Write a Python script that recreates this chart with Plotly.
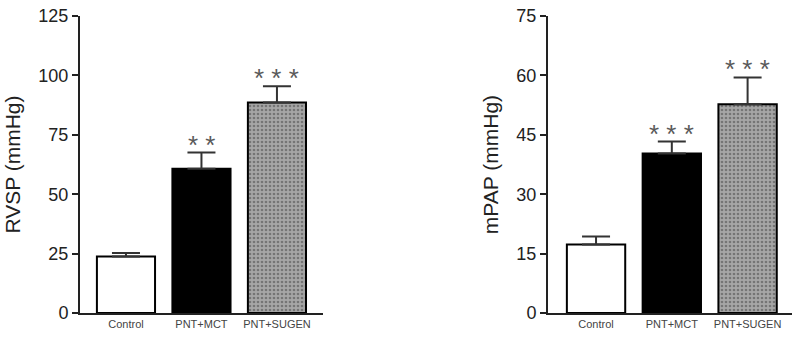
import plotly.graph_objects as go

categories = ["Control", "PNT+MCT", "PNT+SUGEN"]
rvsp_values = [23.8, 60.7, 88.6]
rvsp_errors = [1.4, 6.8, 6.8]
rvsp_stars = ["", "* *", "* * *"]
mpap_values = [17.3, 40.3, 52.7]
mpap_errors = [2.0, 3.0, 6.8]
mpap_stars = ["", "* * *", "* * *"]
rvsp_ticks = [0, 25, 50, 75, 100, 125]
mpap_ticks = [0, 15, 30, 45, 60, 75]

xpos = [0, 1, 2]
fill_colors = ["white", "black", "#a6a6a6"]
patterns = ["", "", "."]

FONT = "Liberation Sans, Arial, sans-serif"

fig = go.Figure()

def add_panel(vals, errs, xa, ya):
    fig.add_trace(go.Bar(
        x=xpos, y=vals, width=0.77,
        marker=dict(color=fill_colors, line=dict(color="black", width=2),
                    pattern=dict(shape=patterns, fgcolor="#dcdcdc", bgcolor="#9a9a9a",
                                 size=4, solidity=0.35, fillmode="overlay")),
        error_y=dict(type="data", symmetric=False, array=errs, arrayminus=[0]*len(errs),
                     color="#333333", thickness=2, width=14),
        xaxis=xa, yaxis=ya, showlegend=False,
    ))

add_panel(rvsp_values, rvsp_errors, "x", "y")
add_panel(mpap_values, mpap_errors, "x2", "y2")

def add_stars(vals, errs, stars, xref, yref):
    for x, v, e, s in zip(xpos, vals, errs, stars):
        if s:
            fig.add_annotation(x=x, y=v + e, xref=xref, yref=yref, text=s,
                               showarrow=False, yanchor="bottom", yshift=-9,
                               font=dict(family=FONT, size=26, color="#5a5a5a"))

add_stars(rvsp_values, rvsp_errors, rvsp_stars, "x", "y")
add_stars(mpap_values, mpap_errors, mpap_stars, "x2", "y2")

xcommon = dict(tickvals=xpos, ticktext=categories, ticks="", showline=True,
               linecolor="#222222", linewidth=2, showgrid=False, zeroline=False,
               automargin=False,
               tickfont=dict(family=FONT, size=11, color="#444444"))
ycommon = dict(ticks="outside", ticklen=6, tickwidth=2, tickcolor="#222222",
               showline=True, linecolor="#222222", linewidth=2, showgrid=False,
               zeroline=False, automargin=False,
               tickfont=dict(family=FONT, size=18, color="#222222"))

ybot = 30 / 343
ytop = 327 / 343

fig.update_layout(
    width=800, height=343,
    margin=dict(l=0, r=0, t=0, b=0),
    paper_bgcolor="white", plot_bgcolor="white",
    xaxis=dict(domain=[80/800, 323/800], range=[-0.609, 2.61], anchor="y", **xcommon),
    yaxis=dict(domain=[ybot, ytop], range=[0, 125], tickvals=rvsp_ticks, anchor="x",
               title=dict(text="RVSP (mmHg)", font=dict(family=FONT, size=21, color="#222222"), standoff=12),
               **ycommon),
    xaxis2=dict(domain=[548/800, 792/800], range=[-0.634, 2.586], anchor="y2", **xcommon),
    yaxis2=dict(domain=[ybot, ytop], range=[0, 75], tickvals=mpap_ticks, anchor="x2",
                title=dict(text="mPAP (mmHg)", font=dict(family=FONT, size=21, color="#222222"), standoff=12),
                **ycommon),
)

fig.write_html("out.html")
